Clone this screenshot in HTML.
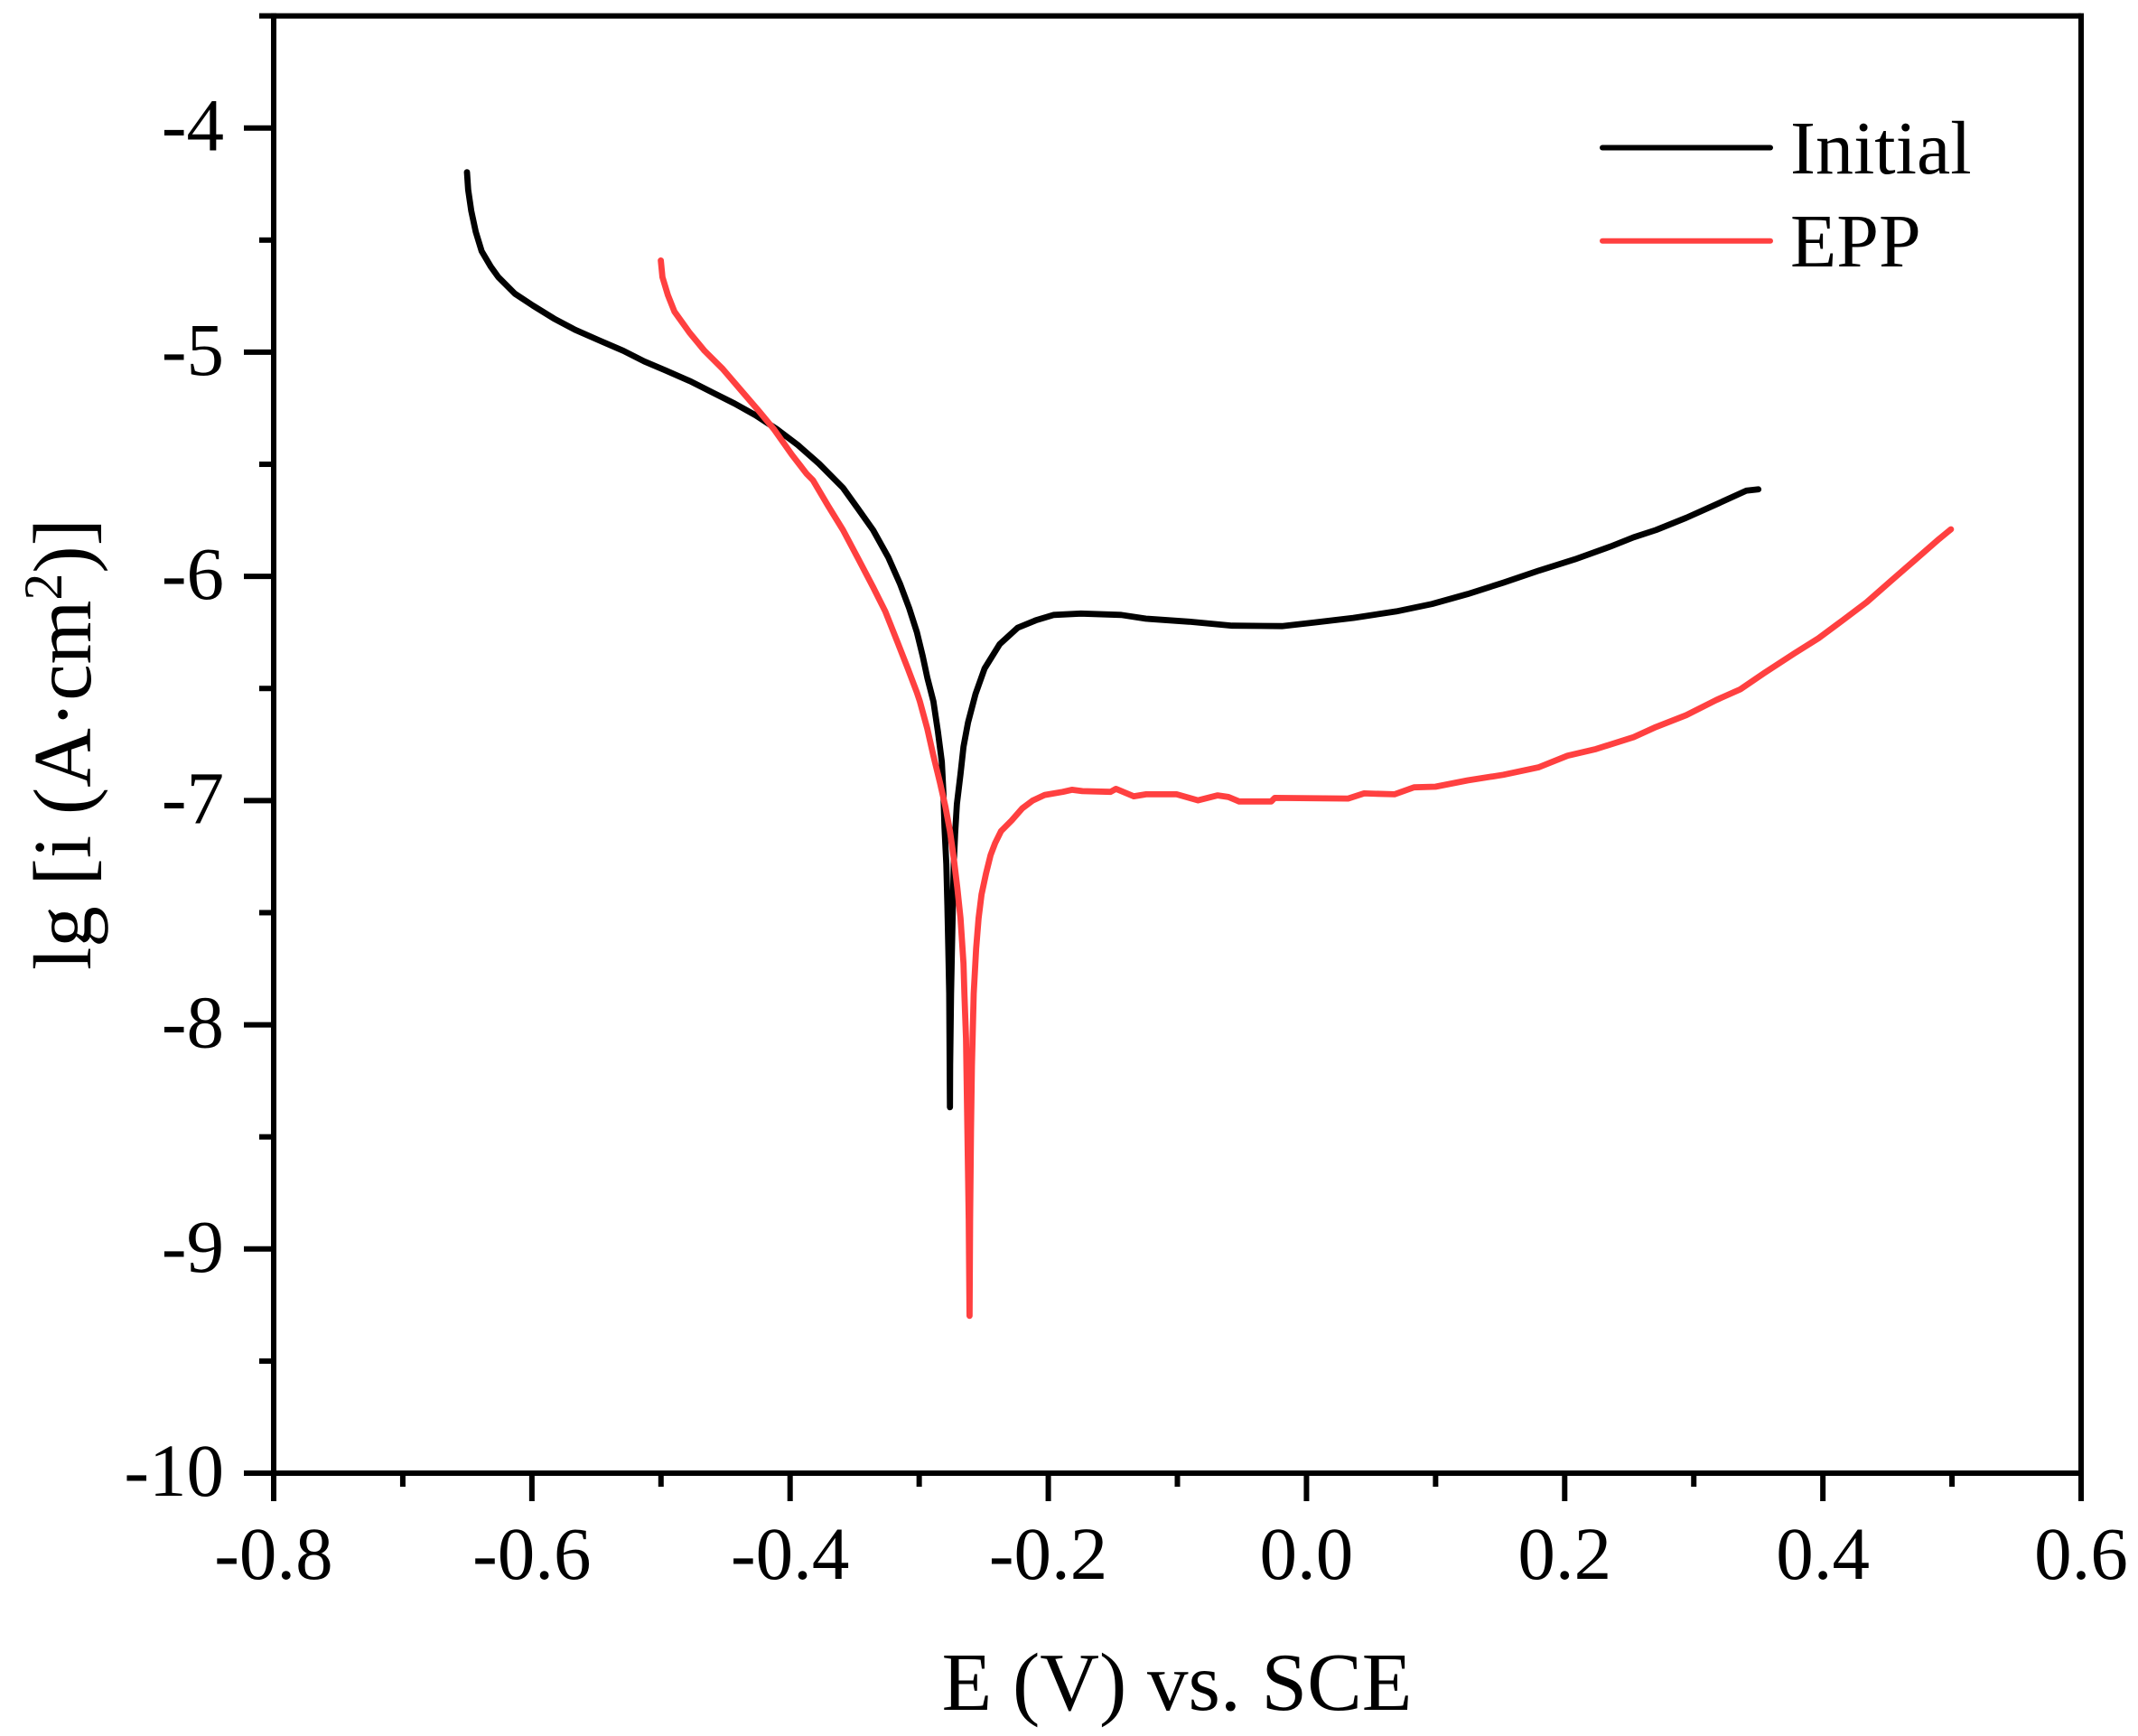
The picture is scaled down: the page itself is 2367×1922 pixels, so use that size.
<!DOCTYPE html>
<html lang="en">
<head>
<meta charset="utf-8">
<title>Polarization curves</title>
<style>
html,body{margin:0;padding:0;background:#fff;}
svg{display:block;}
text{font-family:"Liberation Serif","Times New Roman",serif;fill:#000;}
</style>
</head>
<body>
<svg id="chart" xmlns="http://www.w3.org/2000/svg" width="2367" height="1922" viewBox="0 0 2367 1922">
<rect x="0" y="0" width="2367" height="1922" fill="#ffffff"/>
<g id="marks"></g>
<g id="axes"></g>
<text x="1303" y="1893" font-size="91" text-anchor="middle">E (V) vs. SCE</text>
<text transform="translate(100,824) rotate(-90)" font-size="91" text-anchor="middle">lg [i (A·cm<tspan font-size="60" dy="-32">2</tspan><tspan dy="32">)]</tspan></text>
<g>
<line x1="1774" x2="1960" y1="163.5" y2="163.5" stroke="#000000" stroke-width="6" stroke-linecap="round"/>
<text x="1982" y="192" font-size="84">Initial</text>
<line x1="1774" x2="1960" y1="266.7" y2="266.7" stroke="#ff4040" stroke-width="6" stroke-linecap="round"/>
<text x="1982" y="295" font-size="84">EPP</text>
</g>
</svg>
<script>
const xMajorTicks = [-0.8, -0.6, -0.4, -0.2, 0.0, 0.2, 0.4, 0.6];
const xMinorTicks = [-0.7, -0.5, -0.3, -0.1, 0.1, 0.3, 0.5];
const yMajorTicks = [-4, -5, -6, -7, -8, -9, -10];
const yMinorTicks = [-3.5, -4.5, -5.5, -6.5, -7.5, -8.5, -9.5];
const xTickLabels = ["-0.8", "-0.6", "-0.4", "-0.2", "0.0", "0.2", "0.4", "0.6"];
const yTickLabels = ["-4", "-5", "-6", "-7", "-8", "-9", "-10"];

const initialE = [-0.6503, -0.6494, -0.6470, -0.6435, -0.6389, -0.6319, -0.6260, -0.6132, -0.5992, -0.5829,
  -0.5665, -0.5479, -0.5292, -0.5129, -0.4966, -0.4779, -0.4593, -0.4430, -0.4266, -0.4103,
  -0.3940, -0.3776, -0.3590, -0.3473, -0.3357, -0.3240, -0.3147, -0.3077, -0.3018, -0.2972,
  -0.2937, -0.2890, -0.2855, -0.2825, -0.2813, -0.2804, -0.2790, -0.2781, -0.2774, -0.2767,
  -0.2762, -0.2760, -0.2753, -0.2746, -0.2739, -0.2732, -0.2722, -0.2708, -0.2680, -0.2657,
  -0.2622, -0.2564, -0.2494, -0.2377, -0.2237, -0.2097, -0.1957, -0.1747, -0.1435, -0.1242,
  -0.0909, -0.0577, -0.0190, 0.0058, 0.0363, 0.0695, 0.0972, 0.1248, 0.1524, 0.1801,
  0.2078, 0.2354, 0.2534, 0.2707, 0.2941, 0.3173, 0.3406, 0.3500];
const initialLgI = [-4.197, -4.275, -4.369, -4.463, -4.550, -4.618, -4.665, -4.739, -4.792, -4.850,
  -4.900, -4.947, -4.994, -5.041, -5.081, -5.128, -5.182, -5.229, -5.282, -5.343,
  -5.414, -5.497, -5.605, -5.699, -5.793, -5.914, -6.035, -6.142, -6.249, -6.357,
  -6.451, -6.558, -6.693, -6.827, -6.961, -7.122, -7.284, -7.470, -7.660, -7.861,
  -8.368, -8.180, -7.861, -7.660, -7.470, -7.284, -7.148, -7.015, -6.881, -6.760,
  -6.652, -6.525, -6.411, -6.303, -6.229, -6.196, -6.172, -6.166, -6.172, -6.189,
  -6.202, -6.220, -6.222, -6.206, -6.185, -6.156, -6.123, -6.079, -6.028, -5.974,
  -5.924, -5.867, -5.826, -5.793, -5.739, -5.679, -5.618, -5.612];
const eppE = [-0.5001, -0.4989, -0.4947, -0.4896, -0.4779, -0.4663, -0.4523, -0.4383, -0.4243, -0.4126,
  -0.3986, -0.3870, -0.3823, -0.3706, -0.3590, -0.3473, -0.3357, -0.3263, -0.3170, -0.3088,
  -0.3018, -0.2995, -0.2937, -0.2890, -0.2839, -0.2797, -0.2762, -0.2732, -0.2704, -0.2680,
  -0.2657, -0.2650, -0.2637, -0.2627, -0.2616, -0.2610, -0.2606, -0.2599, -0.2592, -0.2578,
  -0.2559, -0.2540, -0.2517, -0.2482, -0.2447, -0.2412, -0.2366, -0.2284, -0.2202, -0.2121,
  -0.2027, -0.1887, -0.1817, -0.1736, -0.1518, -0.1476, -0.1338, -0.1242, -0.1006, -0.0840,
  -0.0688, -0.0605, -0.0522, -0.0273, -0.0246, 0.0322, 0.0446, 0.0681, 0.0833, 0.0999,
  0.1248, 0.1524, 0.1801, 0.2022, 0.2243, 0.2534, 0.2707, 0.2941, 0.3173, 0.3360,
  0.3546, 0.3780, 0.3966, 0.4153, 0.4340, 0.4526, 0.4713, 0.4900, 0.4992];
const eppLgI = [-4.591, -4.665, -4.745, -4.819, -4.913, -4.994, -5.074, -5.168, -5.262, -5.343,
  -5.457, -5.544, -5.571, -5.685, -5.793, -5.920, -6.048, -6.156, -6.290, -6.411,
  -6.518, -6.558, -6.679, -6.800, -6.921, -7.028, -7.136, -7.257, -7.391, -7.525,
  -7.727, -7.861, -8.062, -8.465, -8.868, -9.298, -8.868, -8.465, -8.183, -7.861,
  -7.660, -7.525, -7.418, -7.324, -7.243, -7.190, -7.136, -7.089, -7.035, -7.000,
  -6.975, -6.961, -6.952, -6.958, -6.961, -6.948, -6.981, -6.972, -6.972, -6.999,
  -6.977, -6.984, -7.004, -7.004, -6.988, -6.991, -6.968, -6.972, -6.941, -6.938,
  -6.910, -6.885, -6.851, -6.800, -6.770, -6.717, -6.672, -6.619, -6.552, -6.504,
  -6.431, -6.343, -6.276, -6.196, -6.115, -6.021, -5.927, -5.833, -5.790];

const SVG_NS = "http://www.w3.org/2000/svg";
const xAt = function (v) { return 303 + (v + 0.8) * (2304 - 303) / 1.4; };
const yAt = function (v) { return 141.7 + (-4 - v) * (1631 - 141.7) / 6; };
const axes = document.getElementById("axes");
const marks = document.getElementById("marks");

function makeLine(x1, y1, x2, y2) {
  const el = document.createElementNS(SVG_NS, "line");
  el.setAttribute("x1", x1);
  el.setAttribute("y1", y1);
  el.setAttribute("x2", x2);
  el.setAttribute("y2", y2);
  el.setAttribute("stroke", "#000000");
  el.setAttribute("stroke-width", "6");
  axes.appendChild(el);
  return el;
}

function makeLabel(x, y, anchor, str) {
  const el = document.createElementNS(SVG_NS, "text");
  el.setAttribute("x", x);
  el.setAttribute("y", y);
  el.setAttribute("font-size", "83");
  el.setAttribute("text-anchor", anchor);
  el.textContent = str;
  axes.appendChild(el);
  return el;
}

function makeSeries(es, is, color) {
  const el = document.createElementNS(SVG_NS, "polyline");
  const pts = es.map(function (e, i) { return xAt(e).toFixed(1) + "," + yAt(is[i]).toFixed(1); });
  el.setAttribute("points", pts.join(" "));
  el.setAttribute("fill", "none");
  el.setAttribute("stroke", color);
  el.setAttribute("stroke-width", "6.8");
  el.setAttribute("stroke-linejoin", "round");
  el.setAttribute("stroke-linecap", "round");
  marks.appendChild(el);
  return el;
}

const seriesInitial = makeSeries(initialE, initialLgI, "#000000");



const seriesEpp = makeSeries(eppE, eppLgI, "#ff4040");



const leftSpine = makeLine(xAt(-0.8), yAt(-3.5) - 3, xAt(-0.8), yAt(-10) + 3);



const rightSpine = makeLine(xAt(0.6), yAt(-3.5) - 3, xAt(0.6), yAt(-10) + 3);



const topSpine = makeLine(xAt(-0.8), yAt(-3.5), xAt(0.6), yAt(-3.5));



const bottomSpine = makeLine(xAt(-0.8), yAt(-10), xAt(0.6), yAt(-10));



xMajorTicks.forEach(function (v, i) {
  const tick = makeLine(xAt(v), yAt(-10), xAt(v), yAt(-10) + 31);
  
  
  const label = makeLabel(xAt(v), 1748, "middle", xTickLabels[i]);
  
  
});

xMinorTicks.forEach(function (v) {
  const tick = makeLine(xAt(v), yAt(-10), xAt(v), yAt(-10) + 15);
  
  
});

yMajorTicks.forEach(function (v, i) {
  const tick = makeLine(xAt(-0.8) - 33, yAt(v), xAt(-0.8), yAt(v));
  
  
  const label = makeLabel(xAt(-0.8) - 55, yAt(v) + 25, "end", yTickLabels[i]);
  
  
});

yMinorTicks.forEach(function (v) {
  const tick = makeLine(xAt(-0.8) - 16, yAt(v), xAt(-0.8), yAt(v));
  
  
});
</script>
</body>
</html>
